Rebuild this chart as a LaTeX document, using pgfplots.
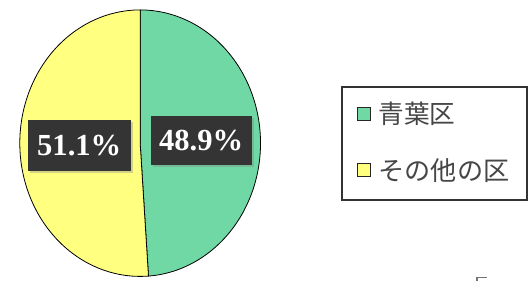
\documentclass[border=0pt]{standalone}
\usepackage{pgfplots}
\usepackage{pgfplotstable}
\pgfplotsset{compat=1.18}
\usepackage{fontspec}
\setmainfont{Liberation Serif}
\newfontfamily\cjk{Noto Sans CJK JP}
\usetikzlibrary{shadows}
\definecolor{aoba}{RGB}{112,216,164}
\definecolor{other}{RGB}{255,255,128}
\definecolor{labelbg}{RGB}{52,52,52}
\definecolor{legtext}{RGB}{70,70,70}
\pgfplotstableread{
name value
Aoba 48.9
Other 51.1
}\piedata
\begin{document}
\pgfplotstablegetelem{0}{value}\of\piedata\let\va\pgfplotsretval
\pgfplotstablegetelem{1}{value}\of\piedata\let\vb\pgfplotsretval
\pgfmathsetmacro{\angA}{90-3.6*\va}
\pgfmathsetmacro{\angB}{90+3.6*\vb}
\begin{tikzpicture}
\begin{axis}[
  width=529bp, height=284bp, scale only axis,
  xmin=0, xmax=529, ymin=0, ymax=284, y dir=reverse,
  hide axis, clip=false,
]
\path (rel axis cs:0,0) rectangle (rel axis cs:1,1);
\def\cx{136.5}\def\cy{144.5}\def\ra{121.5}\def\rb{134.5}
\addplot[fill=aoba, draw=black, line width=0.8bp, domain=\angA:90, samples=120, variable=\t]
  ({\cx+\ra*cos(\t)},{\cy-\rb*sin(\t)}) -- (axis cs:\cx,\cy) -- cycle;
\addplot[fill=other, draw=black, line width=0.8bp, domain=90:\angB, samples=120, variable=\t]
  ({\cx+\ra*cos(\t)},{\cy-\rb*sin(\t)}) -- (axis cs:\cx,\cy) -- cycle;
% data labels
\node[fill=labelbg, text=white, font=\bfseries\fontsize{31}{31}\selectfont, minimum width=104bp, minimum height=52bp, inner sep=0pt,
  drop shadow={shadow xshift=2bp, shadow yshift=-2bp, opacity=0.35}] at (axis cs:75,147) {\vb\%};
\node[fill=labelbg, text=white, font=\bfseries\fontsize{31}{31}\selectfont, minimum width=102bp, minimum height=50bp, inner sep=0pt,
  drop shadow={shadow xshift=2bp, shadow yshift=-2bp, opacity=0.35}] at (axis cs:198,142) {\va\%};
% legend
\draw[draw=black!80, line width=1.5bp] (axis cs:340,88) rectangle (axis cs:527,202);
\draw[fill=aoba, draw=black!85, line width=1bp] (axis cs:356,108.5) rectangle (axis cs:369.5,122);
\draw[fill=other, draw=black!85, line width=1bp] (axis cs:356,165) rectangle (axis cs:369.5,178.5);
\node[anchor=west, inner sep=0pt, text=legtext, font=\cjk\fontsize{26}{26}\selectfont] at (axis cs:377,115) {青葉区};
\node[anchor=west, inner sep=0pt, text=legtext, font=\cjk\fontsize{26.5}{26.5}\selectfont] at (axis cs:377,172) {その他の区};
% small corner mark
\draw[black!55, line width=1.2bp] (axis cs:476.5,284) -- (axis cs:476.5,280.5) -- (axis cs:487,280.5);
\end{axis}
\end{tikzpicture}
\end{document}
